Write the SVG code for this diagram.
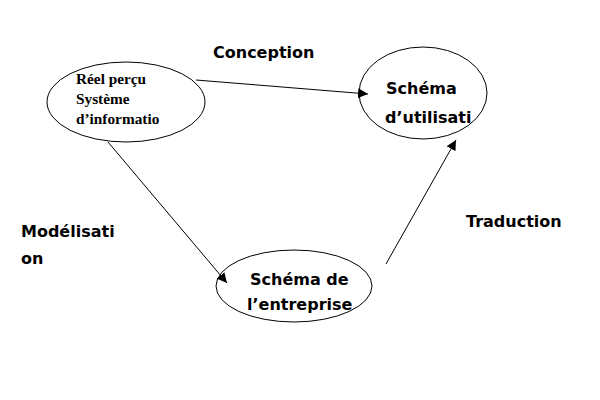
<svg xmlns="http://www.w3.org/2000/svg" width="600" height="400" viewBox="0 0 600 400">
<style>
.n{fill:#fff;stroke:#000;stroke-width:1}
.t{font-family:"DejaVu Sans","Liberation Sans",sans-serif;font-weight:bold;font-size:16px;fill:#000}
.s{font-family:"Liberation Serif",serif;font-weight:bold;font-size:15.3px;fill:#000}
.c{stroke:#000;stroke-width:1;fill:none;marker-end:url(#a)}
</style>
<defs>
<marker id="a" viewBox="0 0 10 10" refX="10" refY="5" markerWidth="10" markerHeight="10" markerUnits="userSpaceOnUse" orient="auto">
<path d="M0,0L10,5L0,10z" fill="#000"/>
</marker>
</defs>
<rect width="600" height="400" fill="#fff"/>
<g id="reel">
<ellipse class="n" cx="126" cy="102" rx="79" ry="40"/>
<text class="s" x="76" y="84">Réel perçu</text>
<text class="s" x="76" y="104">Système</text>
<text class="s" x="76" y="124">d’informatio</text>
</g>
<g id="utilisation">
<ellipse class="n" cx="423" cy="93" rx="64" ry="46"/>
<text class="t" x="386" y="94">Schéma</text>
<text class="t" x="385" y="123">d’utilisati</text>
</g>
<g id="entreprise">
<ellipse class="n" cx="294" cy="286" rx="78" ry="36"/>
<text class="t" x="250" y="285">Schéma de</text>
<text class="t" x="247" y="310">l’entreprise</text>
</g>
<g id="connectors">
<line class="c" x1="196" y1="80" x2="368" y2="94"/>
<line class="c" x1="108" y1="142" x2="227" y2="283"/>
<line class="c" x1="386" y1="264" x2="456" y2="140"/>
</g>
<g id="labels">
<text class="t" x="213" y="58">Conception</text>
<text class="t" x="21" y="237">Modélisati</text>
<text class="t" x="21" y="264">on</text>
<text class="t" x="466" y="227">Traduction</text>
</g>
</svg>
